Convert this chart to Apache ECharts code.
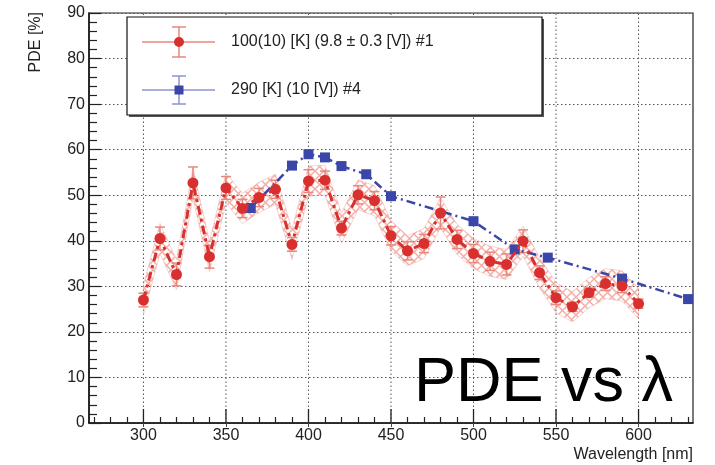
<!DOCTYPE html>
<html>
<head>
<meta charset="utf-8">
<script src="https://cdn.jsdelivr.net/npm/echarts@6/dist/echarts.min.js"></script>
<style>
html,body{margin:0;padding:0;background:#fff;}
#c{width:715px;height:465px;}
</style>
</head>
<body>
<div id="c"></div>
<script>
// ---- data ----
const redX   = [300,310,320,330,340,350,360,370,380,390,400,410,420,430,440,450,460,470,480,490,500,510,520,530,540,550,560,570,580,590,600];
const redY   = [27.0,40.5,32.6,52.7,36.5,51.6,47.1,49.5,51.3,39.2,53.1,53.3,42.8,50.1,48.8,41.1,37.8,39.4,46.1,40.3,37.2,35.5,34.8,39.9,33.0,27.5,25.5,28.6,30.6,30.1,26.2];
const redErr = [1.5,2.5,2.5,3.5,2.5,2.5,2.0,2.0,2.0,1.5,2.5,2.0,1.5,2.0,2.0,2.0,2.0,2.0,3.5,2.0,2.0,2.0,2.3,2.5,1.5,1.5,1.0,1.0,1.5,1.5,1.0];
const redSys = [3.3,3.3,3.3,3.3,3.3,3.3,3.3,3.3,3.3,3.3,3.3,3.3,3.3,3.3,3.3,3.3,3.3,3.3,3.3,3.3,3.3,3.3,3.3,3.3,3.3,3.3,3.3,3.3,3.3,3.3,3.3];
const blueX  = [365,390,400,410,420,435,450,500,525,545,590,630];
const blueY  = [47.2,56.5,59.0,58.3,56.4,54.6,49.8,44.3,38.1,36.3,31.7,27.2];
const xMajor = [300,350,400,450,500,550,600];
const xMinor = [270,280,290,310,320,330,340,360,370,380,390,410,420,430,440,460,470,480,490,510,520,530,540,560,570,580,590,610,620,630];
const yMajor = [10,20,30,40,50,60,70,80];
const legendLabels = ['100(10) [K] (9.8 \u00b1 0.3 [V]) #1', '290 [K] (10 [V]) #4'];

const FONT = "'Liberation Sans', Arial, Helvetica, sans-serif";
const RED = '#d8302e', RED_ERR = '#e8877c', BLUE = '#3a47a8', BLUE_ERR = '#8d93d2';

// crosshatch pattern
const pat = document.createElement('canvas');
pat.width = 9; pat.height = 9;
(function(){
  const g = pat.getContext('2d');
  g.strokeStyle = 'rgba(238,140,130,0.7)';
  g.lineWidth = 1.5;
  g.beginPath();
  g.moveTo(-1,-1); g.lineTo(10,10);
  g.moveTo(10,-1); g.lineTo(-1,10);
  g.stroke();
})();

const redData = redX.map((x,i)=>[x, redY[i]]);
const blueData = blueX.map((x,i)=>[x, blueY[i]]);
const errData = redX.map((x,i)=>[x, redY[i], redErr[i]]);

const chart = echarts.init(document.getElementById('c'), null, {renderer:'canvas'});

const option = {
  animation: false,
  backgroundColor: '#fff',
  grid: {left: 89, right: 22, top: 13, bottom: 42, show: true, borderColor: '#222', borderWidth: 1.2, backgroundColor: 'transparent'},
  xAxis: [{
    type: 'value', min: 267, max: 633, position: 'bottom',
    axisLine: {show: true, onZero: false, lineStyle: {color: '#111', width: 1.5}},
    axisTick: {show: true, inside: true, length: 6, customValues: xMinor, lineStyle: {color: '#222', width: 1.2}},
    axisLabel: {show: true, customValues: xMajor, margin: 5, color: '#222', fontSize: 16, fontFamily: FONT},
    splitLine: {show: false}
  }, {
    type: 'value', min: 267, max: 633, position: 'top',
    axisLine: {show: false},
    axisTick: {show: true, inside: true, length: 4, customValues: xMajor, lineStyle: {color: '#444', width: 1}},
    axisLabel: {show: false},
    splitLine: {show: false}
  }],
  yAxis: [{
    type: 'value', min: 0, max: 90, interval: 10,
    axisLine: {show: true, lineStyle: {color: '#111', width: 1.5}},
    axisTick: {show: true, inside: true, length: 12, lineStyle: {color: '#222', width: 1.2}},
    minorTick: {show: true, splitNumber: 5, length: 8, lineStyle: {color: '#222', width: 1.2}},
    axisLabel: {margin: 4, color: '#222', fontSize: 16, fontFamily: FONT},
    splitLine: {show: true, lineStyle: {color: '#555', width: 1, type: [1.5, 2.5]}}
  }],
  series: [
    { // x grid lines + long major ticks
      type: 'custom', silent: true, z: 1,
      data: xMajor.map(v=>[v]),
      renderItem: function(params, api){
        const v = api.value(0);
        const p0 = api.coord([v, 0]);
        const p1 = api.coord([v, 90]);
        return {type:'group', children:[
          {type:'line', shape:{x1:p0[0], y1:p0[1], x2:p1[0], y2:p1[1]}, style:{stroke:'#555', lineWidth:1, lineDash:[1.5,2.5]}},
          {type:'line', shape:{x1:p0[0], y1:p0[1], x2:p0[0], y2:p0[1]-14}, style:{stroke:'#222', lineWidth:1.3}}
        ]};
      }
    },
    { // systematic hatched band
      type: 'custom', silent: true, z: 2,
      data: [[0]],
      renderItem: function(params, api){
        const upper = redX.map((x,i)=>api.coord([x, redY[i]+redSys[i]]));
        const lower = redX.map((x,i)=>api.coord([x, redY[i]-redSys[i]])).reverse();
        return {type:'polygon', shape:{points: upper.concat(lower)},
          style:{fill:{image: pat, repeat:'repeat'}, stroke:'rgba(240,170,165,0.5)', lineWidth:1}};
      }
    },
    { // red error bars
      type: 'custom', silent: true, z: 3,
      data: errData,
      renderItem: function(params, api){
        const x = api.value(0), y = api.value(1), e = api.value(2);
        const top = api.coord([x, y+e]), bot = api.coord([x, y-e]);
        const c = 5;
        return {type:'group', children:[
          {type:'line', shape:{x1:top[0], y1:top[1], x2:bot[0], y2:bot[1]}, style:{stroke:RED_ERR, lineWidth:1.5}},
          {type:'line', shape:{x1:top[0]-c, y1:top[1], x2:top[0]+c, y2:top[1]}, style:{stroke:RED_ERR, lineWidth:1.5}},
          {type:'line', shape:{x1:bot[0]-c, y1:bot[1], x2:bot[0]+c, y2:bot[1]}, style:{stroke:RED_ERR, lineWidth:1.5}}
        ]};
      }
    },
    {
      name: legendLabels[1], type: 'line', data: blueData, z: 4,
      symbol: 'rect', symbolSize: 10,
      itemStyle: {color: BLUE},
      lineStyle: {color: BLUE, width: 2.5, type: [9, 4, 2, 4]}
    },
    {
      name: legendLabels[0], type: 'line', data: redData, z: 5,
      symbol: 'circle', symbolSize: 11,
      itemStyle: {color: RED},
      lineStyle: {color: RED, width: 3, type: [9, 4, 3, 4]}
    }
  ],
  graphic: [
    // legend box
    {type:'rect', shape:{x:129, y:19, width:415, height:98}, style:{fill:'#555'}, z:10},
    {type:'rect', shape:{x:127, y:17, width:415, height:98}, style:{fill:'#fff', stroke:'#111', lineWidth:1.2}, z:11},
    // red entry
    {type:'line', shape:{x1:142,y1:42,x2:215,y2:42}, style:{stroke:RED_ERR, lineWidth:1.5}, z:12},
    {type:'line', shape:{x1:179,y1:27,x2:179,y2:57}, style:{stroke:RED_ERR, lineWidth:1.5}, z:12},
    {type:'line', shape:{x1:172,y1:27,x2:186,y2:27}, style:{stroke:RED_ERR, lineWidth:1.5}, z:12},
    {type:'line', shape:{x1:172,y1:57,x2:186,y2:57}, style:{stroke:RED_ERR, lineWidth:1.5}, z:12},
    {type:'circle', shape:{cx:179, cy:42, r:5}, style:{fill:RED}, z:13},
    {type:'text', x:231, y:42, style:{text:legendLabels[0], fill:'#222', font:'16px ' + FONT, verticalAlign:'middle', align:'left'}, z:13},
    // blue entry
    {type:'line', shape:{x1:142,y1:90,x2:215,y2:90}, style:{stroke:BLUE_ERR, lineWidth:1.5}, z:12},
    {type:'line', shape:{x1:179,y1:76,x2:179,y2:104}, style:{stroke:BLUE_ERR, lineWidth:1.5}, z:12},
    {type:'line', shape:{x1:172,y1:76,x2:186,y2:76}, style:{stroke:BLUE_ERR, lineWidth:1.5}, z:12},
    {type:'line', shape:{x1:172,y1:104,x2:186,y2:104}, style:{stroke:BLUE_ERR, lineWidth:1.5}, z:12},
    {type:'rect', shape:{x:174.5, y:85.5, width:9, height:9}, style:{fill:BLUE}, z:13},
    {type:'text', x:231, y:90, style:{text:legendLabels[1], fill:'#222', font:'16px ' + FONT, verticalAlign:'middle', align:'left'}, z:13},
    // axis titles
    {type:'text', x:36, y:12, rotation:Math.PI/2, style:{text:'PDE [%]', fill:'#222', font:'16px ' + FONT, align:'right', verticalAlign:'middle'}, z:13},
    {type:'text', x:693, y:455, style:{text:'Wavelength [nm]', fill:'#222', font:'16px ' + FONT, align:'right', verticalAlign:'middle'}, z:13},
    // big caption
    {type:'text', x:414, y:384, style:{text:'PDE vs \u03bb', fill:'#000', font:'63px ' + FONT, align:'left', verticalAlign:'middle'}, z:13}
  ]
};
chart.setOption(option);
</script>
</body>
</html>
